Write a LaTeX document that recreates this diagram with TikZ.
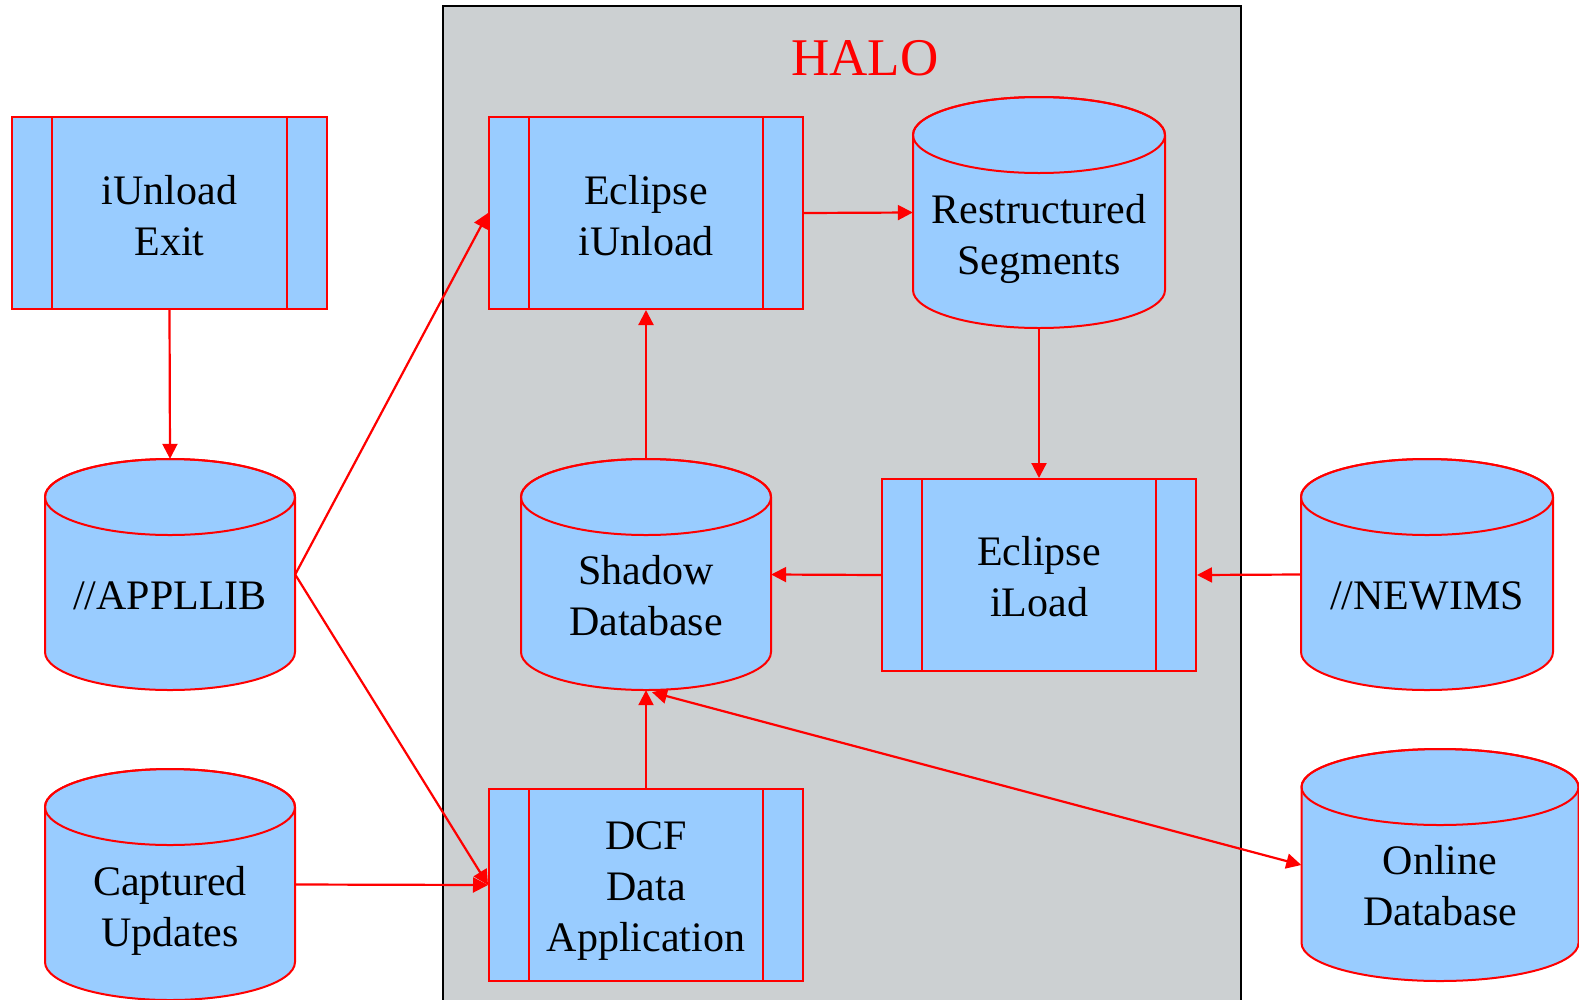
\documentclass[tikz,border=0pt]{standalone}
\usepackage{fontspec}
\setmainfont{Liberation Serif}
\usetikzlibrary{arrows.meta,calc}
\definecolor{boxblue}{RGB}{153,204,255}
\definecolor{halogray}{RGB}{204,208,210}
\tikzset{
  lbl/.style={font=\fontsize{42}{51}\selectfont, align=center, text=black, inner sep=0pt},
  procbox/.style={rectangle, draw=red, fill=boxblue, line width=2pt,
    minimum width=314pt, minimum height=192pt, inner sep=0pt,
    path picture={
      \draw[red, line width=2pt]
        ([xshift=40pt]path picture bounding box.north west) -- ([xshift=40pt]path picture bounding box.south west)
        ([xshift=-40pt]path picture bounding box.north east) -- ([xshift=-40pt]path picture bounding box.south east);
    }},
  cylbody/.style={fill=boxblue, draw=red, line width=2pt},
  cylnode/.style={rectangle, draw=none, fill=none, inner sep=0pt},
  arr/.style={draw=red, line width=2.2pt, -{Triangle[length=15pt,width=15pt]}},
  arrboth/.style={draw=red, line width=2.2pt, {Triangle[length=15pt,width=15pt]}-{Triangle[length=15pt,width=15pt]}},
}
% #1 name, #2 centre x, #3 top y (image), #4 width, #5 height, #6 text, #7 text offset
\newcommand\dbcyl[7]{%
  \pgfmathsetmacro\cylrx{#4/2}%
  \path[cylbody] (#2-\cylrx, -#3-38) -- (#2-\cylrx, -#3-#5+38)
     arc[start angle=180, end angle=360, x radius=\cylrx, y radius=38]
     -- (#2+\cylrx, -#3-38)
     arc[start angle=0, end angle=180, x radius=\cylrx, y radius=38] -- cycle;
  \draw[red, line width=2pt] (#2, -#3-38) ellipse[x radius=\cylrx, y radius=38];
  \node[cylnode, minimum width=#4pt, minimum height=#5pt] (#1) at (#2, -#3-#5/2) {};
  \node[lbl] (#1-text) at (#2, -#3-#5/2-#7) {#6};
}
\begin{document}
\begin{tikzpicture}[x=1pt, y=1pt]
\useasboundingbox (0,0) rectangle (1579,-999);
\fill[white] (0,0) rectangle (1579,-999);
% HALO container
\draw[fill=halogray, draw=black, line width=2pt] (443,-6) rectangle (1241,-1010);
\node[text=red, font=\fontsize{53}{60}\selectfont, inner sep=0pt] (halo) at (865,-58) {HALO};

% process boxes
\node[procbox, minimum width=315pt] (exitbox) at (169.5,-213) {};
\node[lbl] (exitbox-text) at ([yshift=-3pt]exitbox.center) {iUnload\\Exit};
\node[procbox] (eunload) at (646,-213) {};
\node[lbl] (eunload-text) at ([yshift=-3pt]eunload.center) {Eclipse\\iUnload};
\node[procbox] (eiload) at (1039,-575) {};
\node[lbl] (eiload-text) at ([yshift=-2pt]eiload.center) {Eclipse\\iLoad};
\node[procbox] (dcf) at (646,-885) {};
\node[lbl] (dcf-text) at ([yshift=-6pt]dcf.center) {DCF\\Data\\Application};

% cylinders
\dbcyl{restr}{1039}{97}{252}{231}{Restructured\\Segments}{26}
\dbcyl{appllib}{170}{459}{250}{231}{//APPLLIB}{21}
\dbcyl{shadow}{646}{459}{250}{231}{Shadow\\Database}{21}
\dbcyl{newims}{1427}{459}{252}{231}{//NEWIMS}{21}
\dbcyl{captured}{170}{769}{250}{231}{Captured\\Updates}{26}
\dbcyl{online}{1440}{749}{277}{232}{Online\\Database}{21}

% connectors
\draw[arr] (exitbox.south) -- (appllib.north);
\draw[arr] (appllib.east) -- (eunload.west);
\draw[arr] (appllib.east) -- (dcf.west);
\draw[arr] (captured.east) -- (dcf.west);
\draw[arr] (dcf.north) -- (shadow.south);
\draw[arr] (shadow.north) -- (eunload.south);
\draw[arr] (eunload.east) -- (restr.west);
\draw[arr] (restr.south) -- (eiload.north);
\draw[arr] (eiload.west) -- (shadow.east);
\draw[arr] (newims.west) -- (eiload.east);
\draw[arrboth] ([xshift=6pt,yshift=-2pt]shadow.south) -- (online.west);
\end{tikzpicture}
\end{document}
